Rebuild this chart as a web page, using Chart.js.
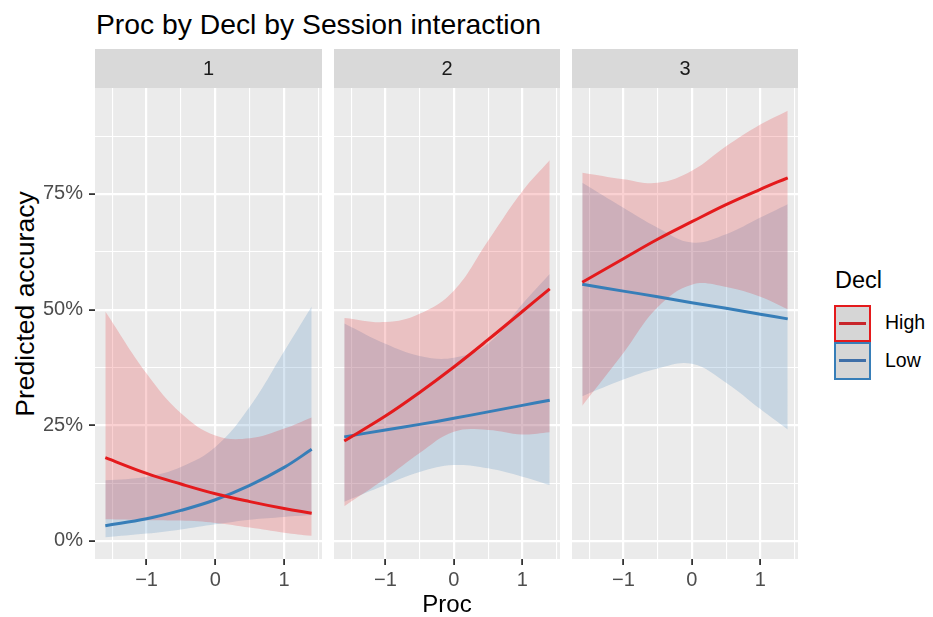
<!DOCTYPE html>
<html>
<head>
<meta charset="utf-8">
<script src="https://cdn.jsdelivr.net/npm/chart.js@4.4.1/dist/chart.umd.min.js"></script>
<style>
  body { margin: 0; background: #fff; font-family: "Liberation Sans", Arial, sans-serif; }
  #wrap { position: relative; width: 933px; height: 617px; overflow: hidden; }
  .panel { position: absolute; top: 0; height: 617px; }
  .txt { position: absolute; white-space: nowrap; }
  #title { left: 96px; top: 10px; font-size: 28.3px; line-height: 28px; color: #000; }
  #ytitle { left: -125px; top: 290px; width: 300px; text-align: center; font-size: 26.5px; line-height: 28px;
            color: #000; transform: rotate(-90deg); transform-origin: 150px 14px; }
  #legTitle { left: 835px; top: 269px; font-size: 23.5px; line-height: 23.5px; color: #000; }
  .key { position: absolute; left: 834px; width: 37px; height: 37.5px; box-sizing: border-box;
         border: 2px solid; background: #d6d6d6; }
  .key i { position: absolute; left: 3px; right: 3px; top: 50%; height: 3px; margin-top: -1.5px; }
  .legLab { left: 885px; font-size: 19.5px; line-height: 20px; color: #000; }
</style>
</head>
<body>
<div id="wrap">
  <div id="title" class="txt">Proc by Decl by Session interaction</div>
  <div id="ytitle" class="txt">Predicted accuracy</div>
  <div class="panel" style="left:0;width:322px"><canvas id="c1" width="322" height="617"></canvas></div>
  <div class="panel" style="left:334px;width:226px"><canvas id="c2" width="226" height="617"></canvas></div>
  <div class="panel" style="left:572px;width:226px"><canvas id="c3" width="226" height="617"></canvas></div>
  <div id="legTitle" class="txt">Decl</div>
  <div class="key" style="top:304.5px;border-color:#E41A1C"><i style="background:#C8262B"></i></div>
  <div class="key" style="top:342px;border-color:#377EB8"><i style="background:#3F6FA8"></i></div>
  <div class="txt legLab" style="top:312px">High</div>
  <div class="txt legLab" style="top:349.5px">Low</div>
</div>
<script>
// predictor values where the curves were read
const proc = [-1.6, -1, -0.5, 0, 0.5, 1, 1.4];
const sessions = ['1', '2', '3'];
const xTicks = [-1.5, -1, -0.5, 0, 0.5, 1, 1.5];
const yTicks = [0, 0.125, 0.25, 0.375, 0.5, 0.625, 0.75, 0.875];

// Decl = High, one row per session
const highFit = [
  [0.180, 0.146, 0.123, 0.102, 0.085, 0.070, 0.060],
  [0.216, 0.270, 0.321, 0.376, 0.435, 0.496, 0.545],
  [0.559, 0.610, 0.652, 0.690, 0.727, 0.760, 0.785]
];
const highLo = [
  [0.047, 0.045, 0.044, 0.039, 0.029, 0.018, 0.011],
  [0.075, 0.135, 0.190, 0.236, 0.240, 0.230, 0.235],
  [0.292, 0.406, 0.505, 0.554, 0.549, 0.528, 0.501]
];
const highHi = [
  [0.496, 0.362, 0.276, 0.228, 0.222, 0.243, 0.267],
  [0.482, 0.473, 0.491, 0.541, 0.649, 0.756, 0.823],
  [0.796, 0.782, 0.774, 0.800, 0.853, 0.900, 0.930]
];

// Decl = Low
const lowFit = [
  [0.033, 0.048, 0.066, 0.089, 0.120, 0.159, 0.198],
  [0.225, 0.240, 0.252, 0.265, 0.279, 0.293, 0.304],
  [0.555, 0.540, 0.528, 0.515, 0.503, 0.490, 0.480]
];
const lowLo = [
  [0.008, 0.016, 0.025, 0.036, 0.046, 0.052, 0.056],
  [0.085, 0.121, 0.149, 0.164, 0.157, 0.139, 0.121],
  [0.313, 0.349, 0.373, 0.383, 0.342, 0.285, 0.241]
];
const lowHi = [
  [0.131, 0.139, 0.160, 0.203, 0.290, 0.410, 0.507],
  [0.470, 0.426, 0.400, 0.396, 0.426, 0.512, 0.577],
  [0.774, 0.720, 0.677, 0.645, 0.663, 0.699, 0.728]
];

const RED = '#E41A1C';
const BLUE = '#377EB8';

Chart.defaults.font.family = '"Liberation Sans", Arial, sans-serif';

const pts = ys => proc.map((x, i) => ({ x, y: ys[i] }));

// grey panel + facet strip
const panelBg = {
  id: 'panelBg',
  beforeDraw(chart, args, opts) {
    const { ctx, chartArea: a } = chart;
    ctx.save();
    ctx.fillStyle = '#EBEBEB';
    ctx.fillRect(a.left, a.top, a.right - a.left, a.bottom - a.top);
    ctx.fillStyle = '#D9D9D9';
    ctx.fillRect(a.left, 49, a.right - a.left, 39);
    ctx.fillStyle = '#1A1A1A';
    ctx.font = '20px "Liberation Sans", Arial, sans-serif';
    ctx.textAlign = 'center';
    ctx.textBaseline = 'middle';
    ctx.fillText(opts.label, (a.left + a.right) / 2, 69);
    ctx.restore();
  }
};

const isMajorX = v => Number.isInteger(v);
const isMajorY = v => Math.abs(v * 4 - Math.round(v * 4)) < 1e-6;

function ribbon(ys, fill, color) {
  return { data: pts(ys), borderWidth: 0, borderColor: 'transparent', pointRadius: 0,
           fill: fill, backgroundColor: color };
}

sessions.forEach((s, i) => {
  const first = i === 0;
  new Chart(document.getElementById('c' + (i + 1)), {
    type: 'line',
    data: {
      datasets: [
        { label: 'High', data: pts(highFit[i]), borderColor: RED, borderWidth: 3, pointRadius: 0, fill: false },
        { label: 'Low', data: pts(lowFit[i]), borderColor: BLUE, borderWidth: 3, pointRadius: 0, fill: false },
        ribbon(highHi[i], '+1', 'rgba(228,26,28,0.2)'),
        ribbon(highLo[i], false, 'transparent'),
        ribbon(lowHi[i], '+1', 'rgba(55,126,184,0.2)'),
        ribbon(lowLo[i], false, 'transparent')
      ]
    },
    options: {
      responsive: false,
      animation: false,
      events: [],
      layout: { padding: { top: 88, left: 0, right: 0, bottom: 0 } },
      elements: { line: { tension: 0.4 } },
      plugins: { legend: { display: false }, tooltip: { enabled: false }, panelBg: { label: s } },
      scales: {
        x: {
          type: 'linear', min: -1.75, max: 1.55,
          afterBuildTicks: sc => { sc.ticks = xTicks.map(v => ({ value: v })); },
          afterFit: sc => { sc.height = 58; },
          border: { display: false },
          grid: {
            color: '#FFFFFF',
            lineWidth: c => isMajorX(c.tick.value) ? 2.2 : 1.1,
            tickLength: 6,
            tickColor: c => isMajorX(c.tick.value) ? '#333333' : 'rgba(0,0,0,0)',
            tickWidth: 1.8
          },
          ticks: {
            autoSkip: false, maxRotation: 0, padding: 3, color: '#4D4D4D', font: { size: 20 },
            callback: v => isMajorX(v) ? (v < 0 ? '\u2212' + Math.abs(v) : String(v)) : ''
          },
          title: { display: i === 1, text: 'Proc', color: '#000', font: { size: 24, lineHeight: 1 }, padding: 0 }
        },
        y: {
          type: 'linear', min: -0.039, max: 0.979,
          afterBuildTicks: sc => { sc.ticks = yTicks.map(v => ({ value: v })); },
          afterFit: sc => { sc.width = first ? 95 : 0; },
          border: { display: false },
          grid: {
            color: '#FFFFFF',
            lineWidth: c => isMajorY(c.tick.value) ? 2.2 : 1.1,
            tickLength: first ? 6 : 0,
            tickColor: c => (first && isMajorY(c.tick.value)) ? '#333333' : 'rgba(0,0,0,0)',
            tickWidth: 1.8
          },
          ticks: {
            display: first, padding: 6, color: '#4D4D4D', font: { size: 20 },
            callback: v => isMajorY(v) ? Math.round(v * 100) + '%' : ''
          }
        }
      }
    },
    plugins: [panelBg]
  });
});
</script>
</body>
</html>
